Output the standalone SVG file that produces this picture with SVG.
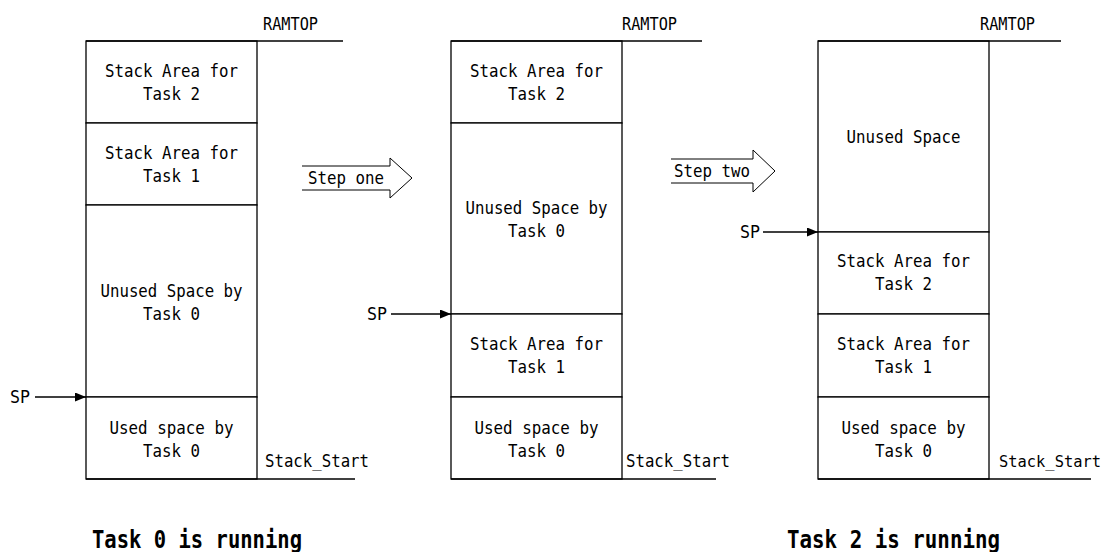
<svg xmlns="http://www.w3.org/2000/svg" width="1109" height="552" viewBox="0 0 1109 552">
  <style>
    .box { fill: #fff; stroke: #000; stroke-width: 1.3; }
    .ln { fill: none; stroke: #000; stroke-width: 1.3; }
    .lbl { font-family: "DejaVu Sans Mono", "Liberation Mono", monospace; font-size: 17.5px; fill: #000; }
    .mid { text-anchor: middle; }
    .cap { font-family: "DejaVu Sans Mono", "Liberation Mono", monospace; font-size: 25px; font-weight: bold; fill: #000; }
    .step { fill: #fff; stroke: #000; stroke-width: 1; }
  </style>
  <defs>
    <marker id="tri" viewBox="0 0 11 9" refX="11" refY="4.5" markerWidth="11" markerHeight="9" markerUnits="userSpaceOnUse" orient="auto">
      <path d="M0,0 L11,4.5 L0,9 Z" fill="#000"/>
    </marker>
  </defs>
  <rect width="1109" height="552" fill="#fff"/>

  <!-- Stack layout 1: Task 0 running -->
  <g id="stack-task0">
    <rect class="box" x="86" y="41" width="171" height="82"/>
    <rect class="box" x="86" y="123" width="171" height="82"/>
    <rect class="box" x="86" y="205" width="171" height="192"/>
    <rect class="box" x="86" y="397" width="171" height="82"/>
    <line class="ln" x1="86" y1="41" x2="343" y2="41"/>
    <line class="ln" x1="86" y1="479" x2="355" y2="479"/>
    <text class="lbl" x="263" y="30" textLength="55" lengthAdjust="spacingAndGlyphs">RAMTOP</text>
    <text class="lbl" x="265" y="467" textLength="104" lengthAdjust="spacingAndGlyphs">Stack_Start</text>
    <text class="lbl mid" x="171.5" y="77" textLength="133" lengthAdjust="spacingAndGlyphs">Stack Area for</text>
    <text class="lbl mid" x="171.5" y="100" textLength="57" lengthAdjust="spacingAndGlyphs">Task 2</text>
    <text class="lbl mid" x="171.5" y="159" textLength="133" lengthAdjust="spacingAndGlyphs">Stack Area for</text>
    <text class="lbl mid" x="171.5" y="182" textLength="57" lengthAdjust="spacingAndGlyphs">Task 1</text>
    <text class="lbl mid" x="171.5" y="297" textLength="142" lengthAdjust="spacingAndGlyphs">Unused Space by</text>
    <text class="lbl mid" x="171.5" y="320" textLength="57" lengthAdjust="spacingAndGlyphs">Task 0</text>
    <text class="lbl mid" x="171.5" y="434" textLength="124" lengthAdjust="spacingAndGlyphs">Used space by</text>
    <text class="lbl mid" x="171.5" y="457" textLength="57" lengthAdjust="spacingAndGlyphs">Task 0</text>
    <text class="lbl" x="10" y="403" textLength="20" lengthAdjust="spacingAndGlyphs">SP</text>
    <text class="cap" x="92" y="548" textLength="210" lengthAdjust="spacingAndGlyphs">Task 0 is running</text>
  </g>

  <!-- Stack layout 2: after step one -->
  <g id="stack-step1">
    <rect class="box" x="451" y="41" width="171" height="82"/>
    <rect class="box" x="451" y="123" width="171" height="191"/>
    <rect class="box" x="451" y="314" width="171" height="83"/>
    <rect class="box" x="451" y="397" width="171" height="82"/>
    <line class="ln" x1="451" y1="41" x2="702" y2="41"/>
    <line class="ln" x1="451" y1="479" x2="716" y2="479"/>
    <text class="lbl" x="622" y="30" textLength="55" lengthAdjust="spacingAndGlyphs">RAMTOP</text>
    <text class="lbl" x="626" y="467" textLength="104" lengthAdjust="spacingAndGlyphs">Stack_Start</text>
    <text class="lbl mid" x="536.5" y="77" textLength="133" lengthAdjust="spacingAndGlyphs">Stack Area for</text>
    <text class="lbl mid" x="536.5" y="100" textLength="57" lengthAdjust="spacingAndGlyphs">Task 2</text>
    <text class="lbl mid" x="536.5" y="214" textLength="142" lengthAdjust="spacingAndGlyphs">Unused Space by</text>
    <text class="lbl mid" x="536.5" y="237" textLength="57" lengthAdjust="spacingAndGlyphs">Task 0</text>
    <text class="lbl mid" x="536.5" y="350" textLength="133" lengthAdjust="spacingAndGlyphs">Stack Area for</text>
    <text class="lbl mid" x="536.5" y="373" textLength="57" lengthAdjust="spacingAndGlyphs">Task 1</text>
    <text class="lbl mid" x="536.5" y="434" textLength="124" lengthAdjust="spacingAndGlyphs">Used space by</text>
    <text class="lbl mid" x="536.5" y="457" textLength="57" lengthAdjust="spacingAndGlyphs">Task 0</text>
    <text class="lbl" x="367" y="320" textLength="20" lengthAdjust="spacingAndGlyphs">SP</text>
  </g>

  <!-- Stack layout 3: Task 2 running -->
  <g id="stack-task2">
    <rect class="box" x="818" y="41" width="171" height="191"/>
    <rect class="box" x="818" y="232" width="171" height="82"/>
    <rect class="box" x="818" y="314" width="171" height="83"/>
    <rect class="box" x="818" y="397" width="171" height="82"/>
    <line class="ln" x1="818" y1="41" x2="1061" y2="41"/>
    <line class="ln" x1="818" y1="479" x2="1091" y2="479"/>
    <text class="lbl" x="980" y="30" textLength="55" lengthAdjust="spacingAndGlyphs">RAMTOP</text>
    <text class="lbl" x="999" y="467" style="font-size:16.4px" textLength="102" lengthAdjust="spacingAndGlyphs">Stack_Start</text>
    <text class="lbl mid" x="903.5" y="143" textLength="114" lengthAdjust="spacingAndGlyphs">Unused Space</text>
    <text class="lbl mid" x="903.5" y="267" textLength="133" lengthAdjust="spacingAndGlyphs">Stack Area for</text>
    <text class="lbl mid" x="903.5" y="290" textLength="57" lengthAdjust="spacingAndGlyphs">Task 2</text>
    <text class="lbl mid" x="903.5" y="350" textLength="133" lengthAdjust="spacingAndGlyphs">Stack Area for</text>
    <text class="lbl mid" x="903.5" y="373" textLength="57" lengthAdjust="spacingAndGlyphs">Task 1</text>
    <text class="lbl mid" x="903.5" y="434" textLength="124" lengthAdjust="spacingAndGlyphs">Used space by</text>
    <text class="lbl mid" x="903.5" y="457" textLength="57" lengthAdjust="spacingAndGlyphs">Task 0</text>
    <text class="lbl" x="740" y="238" textLength="20" lengthAdjust="spacingAndGlyphs">SP</text>
    <text class="cap" x="787" y="548" textLength="213" lengthAdjust="spacingAndGlyphs">Task 2 is running</text>
  </g>

  <!-- Step arrows -->
  <g id="step-one">
    <path class="step" d="M302,166 L390,166 L390,158 L412,178 L390,198 L390,190 L302,190"/>
    <text class="lbl" x="308" y="184" textLength="76" lengthAdjust="spacingAndGlyphs">Step one</text>
  </g>
  <g id="step-two">
    <path class="step" d="M671,159 L753,159 L753,150 L775,171 L753,192 L753,183 L671,183"/>
    <text class="lbl" x="674" y="177" textLength="76" lengthAdjust="spacingAndGlyphs">Step two</text>
  </g>

  <!-- Stack pointer connectors -->
  <g id="connectors">
    <line class="ln" x1="35" y1="397" x2="86" y2="397" marker-end="url(#tri)"/>
    <line class="ln" x1="391" y1="314" x2="451" y2="314" marker-end="url(#tri)"/>
    <line class="ln" x1="763" y1="232" x2="818" y2="232" marker-end="url(#tri)"/>
  </g>
</svg>
